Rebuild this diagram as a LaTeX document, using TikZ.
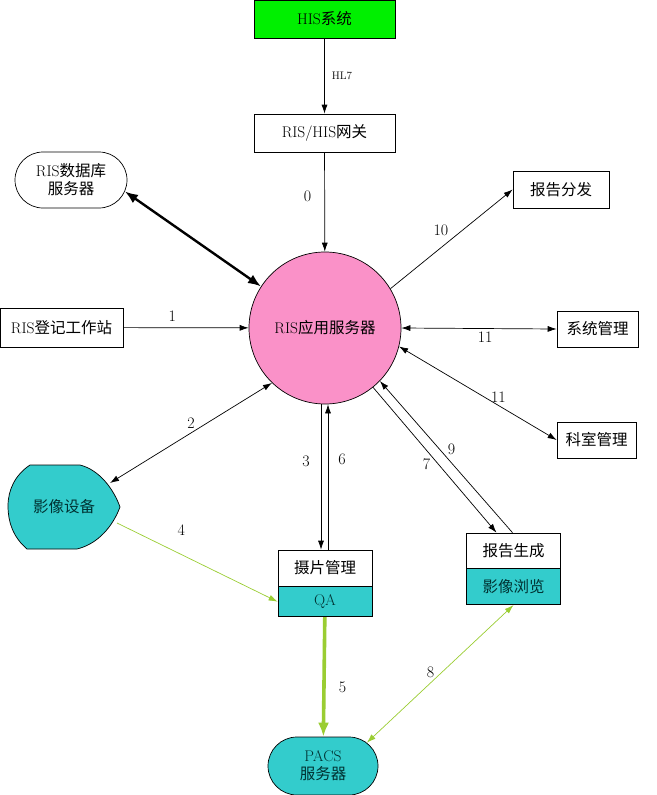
\documentclass[tikz,border=0pt]{standalone}
\usepackage{fontspec}
\usetikzlibrary{arrows.meta,positioning,shapes.misc}
\newfontfamily\cjk{Noto Sans CJK SC}
\definecolor{hisgreen}{RGB}{0,240,0}
\definecolor{srvpink}{RGB}{250,145,200}
\definecolor{imgteal}{RGB}{51,204,204}
\definecolor{linegreen}{RGB}{154,205,50}
\definecolor{darkteal}{RGB}{0,50,50}
\begin{document}
\begin{tikzpicture}[x=1pt,y=-1pt, line width=0.7pt,
    box/.style ={draw, rectangle, inner sep=0pt, font=\fontsize{15.5}{18}\selectfont},
    stadium/.style ={draw, rounded rectangle, inner sep=0pt, align=center, font=\fontsize{15.5}{18}\selectfont},
    lbl/.style ={text=black, inner sep=3pt, font=\fontsize{16}{18}\selectfont},
    arr/.style ={-{Latex[length=9pt,width=6pt]}},
    dblarr/.style ={{Latex[length=9pt,width=6pt]}-{Latex[length=9pt,width=6pt]}},
    bigarr/.style ={line width=2.4pt, {Latex[length=13pt,width=10pt]}-{Latex[length=13pt,width=10pt]}},
    garr/.style ={linegreen, -{Latex[length=9pt,width=6pt]}},
    gdbl/.style ={linegreen, {Latex[length=9pt,width=6pt]}-{Latex[length=9pt,width=6pt]}},
    gbig/.style ={linegreen, line width=3.6pt, -{Latex[length=14pt,width=11pt]}}]
   \useasboundingbox (0,0) rectangle (656,795);
   \node[box, fill=hisgreen, minimum width=141, minimum height=38] (his) at (324.5,19) {HIS{\cjk 系统}};
   \node[box, minimum width=141, minimum height=38] (gw) at (324.5,133) {RIS/HIS{\cjk 网关}};
   \node[stadium, minimum width=112, minimum height=56] (db) at (71,180) {RIS{\cjk 数据库}\\{\cjk 服务器}};
   \node[box, minimum width=123, minimum height=39] (reg) at (61.5,327.5) {RIS{\cjk 登记工作站}};
   \node[circle, draw, fill=srvpink, inner sep=0pt, minimum size=152, font=\fontsize{15.5}{18}\selectfont] (circ) at (325,328) {RIS{\cjk 应用服务器}};
   \node[box, minimum width=96, minimum height=37] (fenfa) at (561,189.5) {\cjk 报告分发};
   \node[box, minimum width=81, minimum height=36] (xitong) at (597.5,329) {\cjk 系统管理};
   \node[box, minimum width=79, minimum height=36] (keshi) at (596.5,440) {\cjk 科室管理};
   \draw[fill=imgteal] (30,465) -- (80,465) .. controls (100,470) and (114,490) .. (120,507)
     .. controls (113,526) and (98,544) .. (77,549) -- (27,549)
     .. controls (13,537) and (8,522) .. (8,506) .. controls (8,490) and (15,475) .. (30,465) -- cycle;
   \node[text=darkteal, font=\fontsize{15.5}{18}\selectfont] (dev) at (64,507) {\cjk 影像设备};
   \coordinate (devA) at (110,483);
   \coordinate (devB) at (117,523);
   \node[box, minimum width=94, minimum height=36] (pm) at (325,568) {\cjk 摄片管理};
   \node[box, fill=imgteal, text=darkteal, minimum width=94, minimum height=30, below=0pt of pm] (qa) {QA};
   \node[box, minimum width=94, minimum height=35] (rep) at (513.5,550.5) {\cjk 报告生成};
   \node[box, fill=imgteal, text=darkteal, minimum width=94, minimum height=36, below=0pt of rep] (view) {\cjk 影像浏览};
   \node[stadium, fill=imgteal, text=darkteal, minimum width=110, minimum height=58] (pacs) at (323,766) {PACS\\{\cjk 服务器}};
   \draw[arr] (his) -- node[lbl, right=4pt, font=\fontsize{11}{13}\selectfont] {HL7} (gw);
   \draw[arr] (gw) -- node[lbl, pos=0.44, left=10pt] {0} (circ);
   \draw[bigarr] (db.-12) -- (circ.147);
   \draw[arr] (reg) -- node[lbl, pos=0.39, above=3pt] {1} (circ);
   \draw[arr] (circ.31) -- node[lbl, midway, above left=0pt] {10} (fenfa.west);
   \draw[dblarr] (circ.east) -- node[lbl, pos=0.54, below=0pt] {11} (xitong.west);
   \draw[dblarr] (circ.-14) -- node[lbl, pos=0.63, above=0pt] {11} (keshi.west);
   \draw[dblarr] (circ.-134) -- node[lbl, midway, above=1pt] {2} (devA);
   \draw[arr] ([xshift=-4pt]circ.south) -- node[lbl, pos=0.39, left=8pt] {3} ([xshift=-4pt]pm.north);
   \draw[arr] ([xshift=3pt]pm.north) -- node[lbl, pos=0.62, right=7pt] {6} ([xshift=3pt]circ.south);
   \draw[arr] (circ.-51) -- node[lbl, pos=0.53, left=5pt] {7} ([xshift=-17pt]rep.north);
   \draw[arr] ([xshift=-1pt]rep.north) -- node[lbl, pos=0.55, right=5pt] {9} (circ.-44);
   \draw[garr] (devB) -- node[lbl, pos=0.4, above=16pt] {4} (qa.west);
   \draw[gbig] (qa) -- node[lbl, pos=0.59, right=10pt] {5} (pacs);
   \draw[gdbl] (view.south) -- node[lbl, pos=0.49, left=4pt] {8} (pacs.28);
\end{tikzpicture}
\end{document}
